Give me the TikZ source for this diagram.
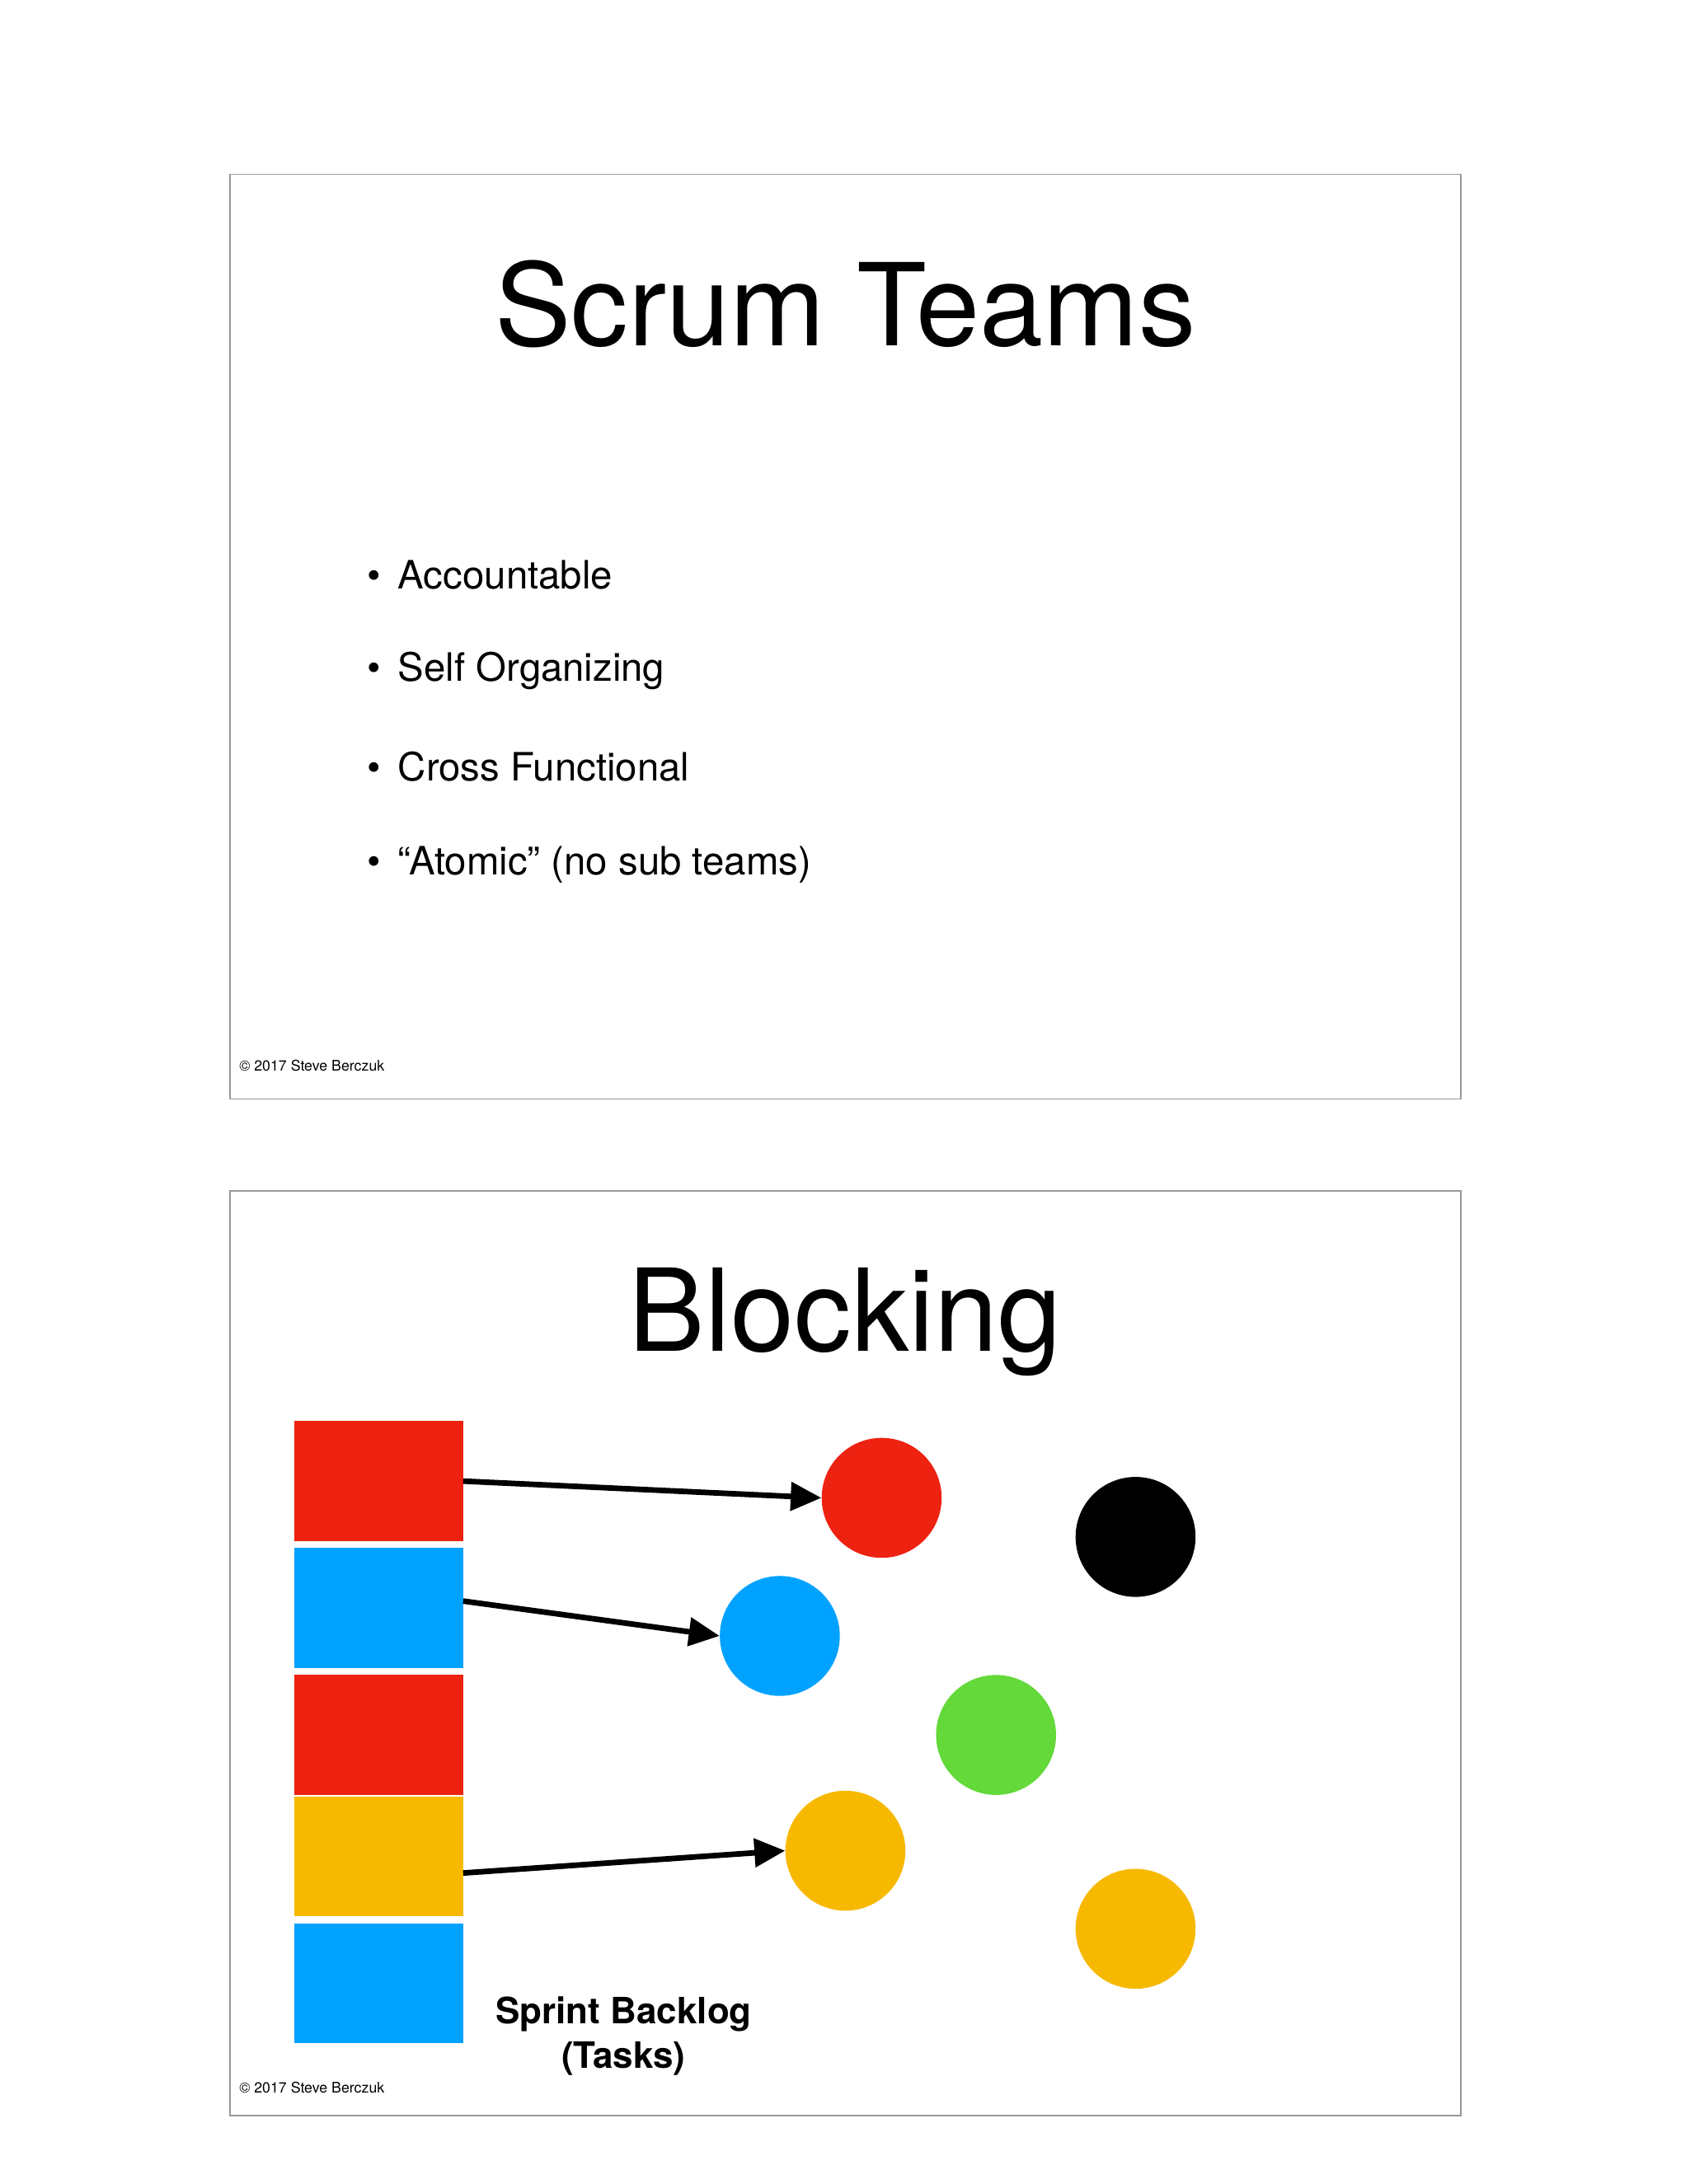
\documentclass[tikz,border=0pt]{standalone}
\usepackage{fontspec}
\setmainfont{TeX Gyre Heros}
\usetikzlibrary{arrows.meta}
\definecolor{cred}{HTML}{EE2211}
\definecolor{cblue}{HTML}{00A2FF}
\definecolor{cyel}{HTML}{F7B900}
\definecolor{cgreen}{HTML}{63D93A}
\begin{document}
\begin{tikzpicture}[x=1pt,y=-1pt,
 frame/.style={draw=gray!80,line width=1pt},
 task/.style={minimum width=121pt,minimum height=86pt,inner sep=0pt,outer sep=0pt},
 dot/.style={circle,minimum size=86pt,inner sep=0pt},
 arr/.style={line width=4pt,-{Triangle[length=22pt,width=20pt]}},
 bullet/.style={anchor=west,font=\fontsize{28}{32}\selectfont}]
\useasboundingbox (0,0) rectangle (1211,1566);
\fill[white] (0,0) rectangle (1211,1566);
\draw[frame] (165,125) rectangle (1047,788);
\node[font=\fontsize{82}{90}\selectfont] (t1) at (606,218) {Scrum Teams};
\node[bullet] (b1) at (260,412) {\textbullet\hspace{12pt}Accountable};
\node[bullet] (b2) at (260,481) {\textbullet\hspace{12pt}Self Organizing};
\node[bullet] (b3) at (260,550) {\textbullet\hspace{12pt}Cross Functional};
\node[bullet] (b4) at (260,620) {\textbullet\hspace{12pt}“Atomic” (no sub teams)};
\node[anchor=west,font=\fontsize{10.5}{12}\selectfont] (c1) at (168,764) {© 2017 Steve Berczuk};
\draw[frame] (165,854) rectangle (1047,1517);
\node[font=\fontsize{82}{90}\selectfont] (t2) at (606,948) {Blocking};
\node[task,fill=cred] (r1) at (271.5,1062) {};
\node[task,fill=cblue] (r2) at (271.5,1153) {};
\node[task,fill=cred] (r3) at (271.5,1244) {};
\node[task,fill=cyel] (r4) at (271.5,1331) {};
\node[task,fill=cblue] (r5) at (271.5,1422) {};
\node[dot,fill=cred] (d1) at (632,1074) {};
\node[dot,fill=black] (d2) at (814,1102) {};
\node[dot,fill=cblue] (d3) at (559,1173) {};
\node[dot,fill=cgreen] (d4) at (714,1244) {};
\node[dot,fill=cyel] (d5) at (606,1327) {};
\node[dot,fill=cyel] (d6) at (814,1383) {};
\draw[arr] (r1.east) -- (d1.west);
\draw[arr] ([yshift=5pt]r2.east) -- (d3.west);
\draw[arr] ([yshift=-12pt]r4.east) -- (d5.west);
\node[font=\bfseries\fontsize{26}{32}\selectfont,align=center] (sb) at (447,1460) {Sprint Backlog\\(Tasks)};
\node[anchor=west,font=\fontsize{10.5}{12}\selectfont] (c2) at (168,1497) {© 2017 Steve Berczuk};
\end{tikzpicture}
\end{document}
